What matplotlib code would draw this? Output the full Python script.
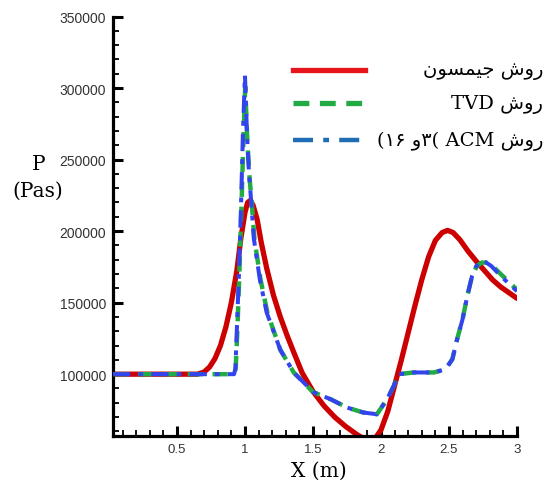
import matplotlib
matplotlib.use("Agg")
import matplotlib.pyplot as plt
from matplotlib.lines import Line2D
from matplotlib.ticker import MultipleLocator, FormatStrFormatter

# Jameson scheme
x_jameson = [0.03, 0.65, 0.70, 0.74, 0.78, 0.82, 0.86, 0.90, 0.94, 0.97,
             1.00, 1.02, 1.04, 1.06, 1.09, 1.12, 1.16, 1.21, 1.26, 1.31,
             1.36, 1.42, 1.50, 1.58, 1.66, 1.74, 1.82, 1.88, 1.92, 1.96,
             2.00, 2.05, 2.10, 2.15, 2.20, 2.25, 2.30, 2.35, 2.40, 2.45,
             2.49, 2.53, 2.58, 2.64, 2.70, 2.76, 2.82, 2.88, 2.94, 3.0]
p_jameson = [100000, 100000, 101500, 105000, 111000, 120000, 133000, 150000, 172000, 195000,
             213000, 220000, 221500, 218000, 208000, 192000, 174000, 155000, 140000, 127000,
             115000, 101000, 88000, 78000, 70000, 63500, 58000, 54500, 53500, 55500,
             61000, 74000, 92000, 110000, 129000, 148000, 166000, 182000, 193500, 199000,
             200500, 199000, 194000, 186000, 179000, 172500, 166000, 161000, 157000, 153000]

# TVD scheme
x_tvd = [0.03, 0.92, 0.932, 0.944, 0.958, 0.973, 0.988, 1.002, 1.018, 1.035,
         1.05, 1.07, 1.115, 1.165, 1.26, 1.36, 1.455, 1.50, 1.63, 1.75,
         1.87, 1.97, 2.045, 2.095, 2.13, 2.24, 2.39, 2.475, 2.525, 2.56,
         2.60, 2.635, 2.67, 2.705, 2.74, 2.775, 2.81, 2.88, 3.0]
p_tvd = [100000, 100000, 104000, 130000, 168000, 212000, 262000, 301000, 262000, 236000,
         220000, 194000, 166000, 143000, 117000, 101000, 92000, 87500, 82500, 76700,
         73200, 72000, 82500, 92000, 100000, 101200, 101200, 103500, 110500, 124500,
         138500, 154800, 168700, 175500, 178000, 178000, 176500, 170000, 159000]

# ACM scheme
x_acm = [0.03, 0.92, 0.93, 0.94, 0.955, 0.97, 0.985, 1.0, 1.015, 1.03,
         1.045, 1.065, 1.11, 1.16, 1.26, 1.36, 1.455, 1.50, 1.63, 1.75,
         1.87, 1.97, 2.045, 2.095, 2.13, 2.24, 2.39, 2.475, 2.525, 2.56,
         2.60, 2.635, 2.67, 2.70, 2.735, 2.77, 2.81, 2.88, 3.0]
p_acm = [100000, 100000, 104000, 130000, 168000, 214000, 268000, 309000, 268000, 240000,
         222000, 195000, 166000, 143000, 117000, 101000, 92000, 87500, 82500, 76700,
         73200, 72000, 82500, 92000, 100000, 101200, 101200, 103500, 110500, 124500,
         138500, 154800, 168700, 175500, 179000, 178200, 175700, 168700, 158000]

x_ticks = [0.5, 1, 1.5, 2, 2.5, 3]
y_ticks = [100000, 150000, 200000, 250000, 300000, 350000]

# Persian labels written in shaped, visual (left-to-right) order
ravesh = "\uFEB5\uFEED\uFEAD"                       # روش
jameson = "\uFEE5\uFEEE\uFEB4\uFEE4\uFBFF\uFE9F"     # جیمسون
label_jameson = jameson + " " + ravesh
label_tvd = "TVD " + ravesh
label_acm = "(\u06F1\u06F6 \uFEED\u06F3( ACM " + ravesh

fig = plt.figure(figsize=(5.52, 4.81), dpi=100)
W, H = 552.0, 481.0
ax = fig.add_axes([113 / W, 1 - 436.7 / H, (517 - 113) / W, (436.7 - 17.5) / H])

ax.plot(x_jameson, p_jameson, color="#cc0000", lw=3.8,
        solid_joinstyle="round", solid_capstyle="round", zorder=2)
ax.plot(x_tvd, p_tvd, color="#22aa44", lw=3.2, linestyle=(0, (3.4, 2.2)), zorder=3)
ax.plot(x_acm, p_acm, color="#3344ee", lw=2.9, linestyle=(0, (4.3, 2.0, 1.2, 2.0)), zorder=4)

ax.set_xlim(0.03, 3.0)
ax.set_ylim(57000, 350000)

for side in ["top", "right"]:
    ax.spines[side].set_visible(False)
for side in ["left", "bottom"]:
    ax.spines[side].set_linewidth(2.3)

ax.set_xticks(x_ticks)
ax.set_yticks(y_ticks)
ax.xaxis.set_major_formatter(FormatStrFormatter("%g"))
ax.yaxis.set_major_formatter(FormatStrFormatter("%d"))
ax.xaxis.set_minor_locator(MultipleLocator(0.1))
ax.yaxis.set_minor_locator(MultipleLocator(10000))
ax.tick_params(which="major", direction="in", length=7, width=2.2,
               labelcolor="#333333", pad=5, top=False, right=False)
ax.tick_params(axis="y", which="major", labelsize=10)
ax.tick_params(axis="x", which="major", labelsize=9.5)
ax.tick_params(which="minor", direction="in", length=4, width=1.3,
               top=False, right=False)
for lab in ax.get_xticklabels() + ax.get_yticklabels():
    lab.set_family("Liberation Sans")

# axis titles
serif = ["DejaVu Serif", "DejaVu Sans"]
fig.text(319 / W, 1 - 476.7 / H, "X (m)", ha="center", va="baseline",
         fontsize=14.5, family=serif)
fig.text(39 / W, 1 - 170 / H, "P", ha="center", va="baseline",
         fontsize=14.5, family=serif)
fig.text(37.5 / W, 1 - 196.7 / H, "(Pas)", ha="center", va="baseline",
         fontsize=14.5, family=serif)

# legend
legend_rows = [
    (71, label_jameson, dict(color="#e8141b", lw=3.8, linestyle="-")),
    (104, label_tvd, dict(color="#22aa44", lw=3.8, linestyle=(0, (3.0, 2.0)))),
    (141, label_acm, dict(color="#1f6db5", lw=3.2, linestyle=(0, (4.5, 2.3, 1.3, 2.3)))),
]
for py, text, style in legend_rows:
    fig.add_artist(Line2D([293 / W, 365 / W], [1 - py / H, 1 - py / H],
                          transform=fig.transFigure, **style))
    fig.text(543 / W, 1 - py / H, text, ha="right", va="center",
             fontsize=14, family=serif)

fig.savefig("out.png", dpi=100)
